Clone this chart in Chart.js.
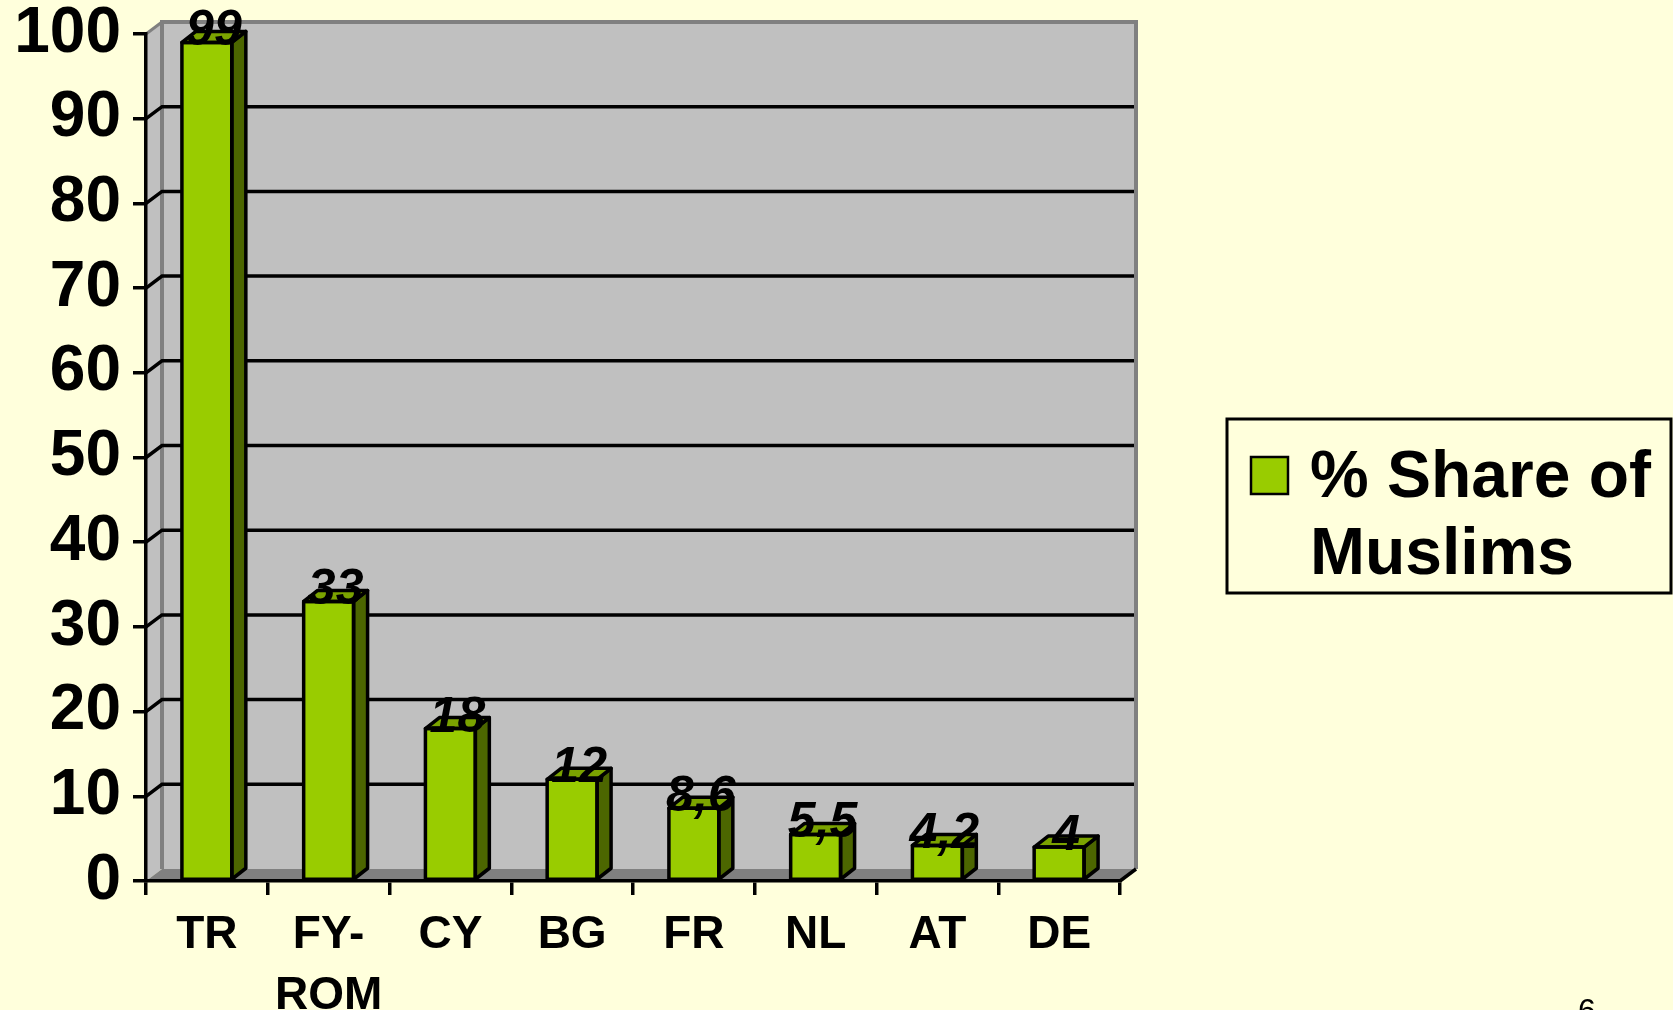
<!DOCTYPE html>
<html>
<head>
<meta charset="utf-8">
<script src="https://cdn.jsdelivr.net/npm/chart.js@4/dist/chart.umd.min.js"></script>
<style>
  body { margin: 0; background: #FFFFDC; }
  #wrap { width: 1673px; height: 1010px; }
</style>
</head>
<body>
<div id="wrap"><canvas id="myChart" width="1673" height="1010"></canvas></div>
<script>
// data
const countries = ['TR', ['FY-', 'ROM'], 'CY', 'BG', 'FR', 'NL', 'AT', 'DE'];
const muslimShare = [99, 33, 18, 12, 8.6, 5.5, 4.2, 4];
const valueLabels = ['99', '33', '18', '12', '8,6', '5,5', '4,2', '4'];
const yTicks = [0, 10, 20, 30, 40, 50, 60, 70, 80, 90, 100];
const seriesName = ['% Share of', 'Muslims'];

const ctx = document.getElementById('myChart');
const bgColor = '#FFFFDC';
const frontColor = '#99CC00';
const topColor = '#7BA300';
const sideColor = '#4C6600';
const fontFam = '"Liberation Sans", Arial, sans-serif';

// depth of the 3d walls and of the bars
const wallDx = 16, wallDy = -12;
const barDx = 14, barDy = -11;

const walls = {
  id: 'walls',
  beforeDraw(chart) {
    const c = chart.ctx;
    const a = chart.chartArea;
    const y = chart.scales.y;
    c.save();
    c.fillStyle = bgColor;
    c.fillRect(0, 0, chart.width, chart.height);

    // back wall
    c.fillStyle = '#C0C0C0';
    c.fillRect(a.left + wallDx, a.top + wallDy, a.right - a.left, a.bottom - a.top);
    // left wall
    c.beginPath();
    c.moveTo(a.left, a.top);
    c.lineTo(a.left + wallDx, a.top + wallDy);
    c.lineTo(a.left + wallDx, a.bottom + wallDy);
    c.lineTo(a.left, a.bottom);
    c.closePath();
    c.fill();
    // floor
    c.fillStyle = '#808080';
    c.beginPath();
    c.moveTo(a.left, a.bottom);
    c.lineTo(a.left + wallDx, a.bottom + wallDy);
    c.lineTo(a.right + wallDx, a.bottom + wallDy);
    c.lineTo(a.right, a.bottom);
    c.closePath();
    c.fill();

    // wall edges
    c.strokeStyle = '#808080';
    c.lineWidth = 4;
    c.beginPath();
    c.moveTo(a.left + wallDx, a.bottom + wallDy);
    c.lineTo(a.left + wallDx, a.top + wallDy);
    c.lineTo(a.right + wallDx, a.top + wallDy);
    c.lineTo(a.right + wallDx, a.bottom + wallDy);
    c.stroke();
    c.lineWidth = 3;
    c.beginPath();
    c.moveTo(a.left, a.top);
    c.lineTo(a.left + wallDx, a.top + wallDy);
    c.stroke();

    // grid lines on back wall + left wall
    c.strokeStyle = '#000';
    c.lineWidth = 3.5;
    yTicks.forEach(v => {
      if (v === 0 || v === 100) return;
      const py = y.getPixelForValue(v);
      c.beginPath();
      c.moveTo(a.left, py);
      c.lineTo(a.left + wallDx, py + wallDy);
      c.lineTo(a.right + wallDx - 2, py + wallDy);
      c.stroke();
    });
    // right floor corner
    c.beginPath();
    c.moveTo(a.right, a.bottom);
    c.lineTo(a.right + wallDx, a.bottom + wallDy);
    c.stroke();
    c.restore();
  }
};

const bar3d = {
  id: 'bar3d',
  afterDatasetsDraw(chart) {
    const c = chart.ctx;
    c.save();
    c.lineWidth = 3.5;
    c.strokeStyle = '#000';
    c.lineJoin = 'round';
    chart.getDatasetMeta(0).data.forEach((bar, i) => {
      const p = bar.getProps(['x', 'y', 'base', 'width'], true);
      const l = p.x - p.width / 2, r = p.x + p.width / 2;
      // side face
      c.fillStyle = sideColor;
      c.beginPath();
      c.moveTo(r, p.y);
      c.lineTo(r + barDx, p.y + barDy);
      c.lineTo(r + barDx, p.base + barDy);
      c.lineTo(r, p.base);
      c.closePath();
      c.fill();
      c.stroke();
      // top face
      c.fillStyle = topColor;
      c.beginPath();
      c.moveTo(l, p.y);
      c.lineTo(l + barDx, p.y + barDy);
      c.lineTo(r + barDx, p.y + barDy);
      c.lineTo(r, p.y);
      c.closePath();
      c.fill();
      c.stroke();
      // front outline again
      c.strokeRect(l, p.y, p.width, p.base - p.y);
    });
    // value labels
    c.fillStyle = '#000';
    c.font = 'italic bold 50px ' + fontFam;
    c.textAlign = 'center';
    c.textBaseline = 'alphabetic';
    chart.getDatasetMeta(0).data.forEach((bar, i) => {
      const p = bar.getProps(['x', 'y'], true);
      c.fillText(valueLabels[i], p.x + barDx / 2, p.y + 3);
    });
    c.restore();
  },
  afterDraw(chart) {
    const c = chart.ctx;
    c.save();
    // legend box
    const lx = 1227, ly = 419, lw = 444, lh = 174;
    c.fillStyle = bgColor;
    c.fillRect(lx, ly, lw, lh);
    c.strokeStyle = '#000';
    c.lineWidth = 3;
    c.strokeRect(lx, ly, lw, lh);
    c.fillStyle = frontColor;
    c.fillRect(lx + 24, ly + 38, 37, 37);
    c.lineWidth = 2.5;
    c.strokeRect(lx + 24, ly + 38, 37, 37);
    c.fillStyle = '#000';
    c.font = 'bold 66px ' + fontFam;
    c.textAlign = 'left';
    c.textBaseline = 'alphabetic';
    c.fillText(seriesName[0], lx + 83, ly + 78);
    c.fillText(seriesName[1], lx + 83, ly + 155);
    // page number
    c.font = '32px ' + fontFam;
    c.fillText('6', 1578, 1021);
    c.restore();
  }
};

new Chart(ctx, {
  type: 'bar',
  data: {
    labels: countries,
    datasets: [{
      label: seriesName.join(' '),
      data: muslimShare,
      backgroundColor: frontColor,
      borderColor: '#000',
      borderWidth: 0,
      categoryPercentage: 1,
      barPercentage: 0.41
    }]
  },
  options: {
    responsive: false,
    animation: false,
    layout: { padding: { left: 0, right: 553, top: 34, bottom: 0 } },
    plugins: {
      legend: { display: false },
      tooltip: { enabled: false }
    },
    scales: {
      y: {
        min: 0,
        max: 100,
        afterFit: s => { s.width = 146; s.paddingTop = 0; s.paddingBottom = 0; },
        afterBuildTicks: s => { s.ticks = yTicks.map(v => ({ value: v })); },
        ticks: {
          color: '#000',
          padding: 12,
          font: { family: fontFam, weight: 'bold', size: 64, lineHeight: 1 }
        },
        grid: { drawOnChartArea: false, tickLength: 13, color: '#000', lineWidth: 3.5 },
        border: { display: true, color: '#000', width: 3.5 }
      },
      x: {
        afterFit: s => { s.height = 129; s.paddingLeft = 0; s.paddingRight = 0; },
        ticks: {
          color: '#000',
          padding: 10,
          maxRotation: 0,
          autoSkip: false,
          font: { family: fontFam, weight: 'bold', size: 46, lineHeight: 1.32 }
        },
        grid: { drawOnChartArea: false, offset: true, tickLength: 14, color: '#000', lineWidth: 3.5 },
        border: { display: true, color: '#000', width: 3.5 }
      }
    }
  },
  plugins: [walls, bar3d]
});
</script>
</body>
</html>
